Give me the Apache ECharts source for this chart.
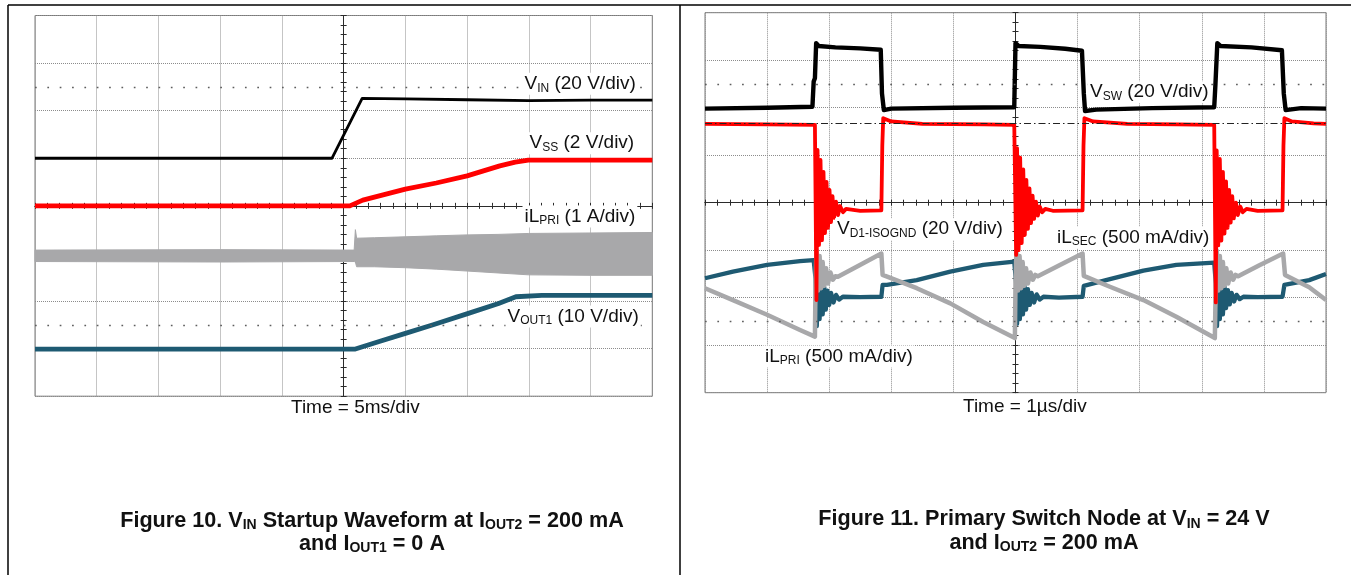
<!DOCTYPE html>
<html><head><meta charset="utf-8">
<script src="https://cdn.jsdelivr.net/npm/echarts@6/dist/echarts.min.js"></script>
<style>html,body{margin:0;padding:0;background:#fff}#c{width:1351px;height:575px}</style>
</head><body><div id="c"></div>
<script>
// ---------- Figure 10 (left): x = divisions from centre (5 ms/div), y = divisions from centre ----------
const vinX   = [-5, -0.19, 0.30, 1.0, 2.0, 3.0, 4.0, 5.0];
const vinY   = [1.0, 1.0, 2.26, 2.25, 2.23, 2.21, 2.22, 2.22];
const vssX   = [-5, -2, 0.10, 0.31, 1.0, 1.5, 2.0, 2.53, 2.78, 2.99, 4.0, 5.0];
const vssY   = [0.0, 0.0, 0.0, 0.12, 0.35, 0.48, 0.63, 0.84, 0.92, 0.96, 0.96, 0.96];
const vout1X = [-5, 0.19, 0.55, 1.0, 1.45, 2.02, 2.51, 2.79, 3.21, 4.0, 5.0];
const vout1Y = [-3.01, -3.01, -2.86, -2.68, -2.50, -2.26, -2.05, -1.91, -1.88, -1.88, -1.88];
// iL_PRI switching envelope (upper / lower edge of the grey band)
const ilBandX  = [-5, -2, 0.17, 0.19, 0.21, 0.5, 1.0, 1.5, 2.0, 2.5, 3.0, 4.0, 5.0];
const ilBandUp = [-0.93, -0.92, -0.93, -0.50, -0.68, -0.67, -0.65, -0.63, -0.61, -0.60, -0.58, -0.57, -0.56];
const ilBandLo = [-1.17, -1.18, -1.17, -1.18, -1.28, -1.28, -1.30, -1.33, -1.37, -1.41, -1.45, -1.46, -1.46];

// ---------- Figure 11 (right): x = divisions from centre (1 us/div), y = divisions from centre ----------
const vswX = [-5, -4.0, -3.27, -3.25, -3.23, -3.21, -3.17, -2.9, -2.5, -2.17, -2.15, -2.12, -2.0, -1.0, -0.02,
  0.0, 0.05, 0.4, 0.8, 1.07, 1.1, 1.12, 1.3, 2.2, 3.2, 3.22, 3.25, 3.3, 3.8, 4.29, 4.32, 4.35, 4.6, 5];
const vswY = [1.98, 2.0, 2.02, 2.55, 2.62, 3.36, 3.30, 3.27, 3.25, 3.22, 2.3, 1.95, 1.98, 2.0, 2.01,
  3.36, 3.30, 3.28, 3.24, 3.2, 2.3, 1.93, 1.96, 1.99, 2.01, 2.5, 3.36, 3.30, 3.27, 3.21, 2.3, 1.95, 1.99, 1.98];

const vd1X = [-5, -4.0, -3.23, -3.205, -3.188, -3.164, -3.14, -3.116, -3.092, -3.068, -3.043, -3.019, -2.995, -2.971,
  -2.947, -2.923, -2.89, -2.858, -2.826, -2.778, -2.729, -2.5, -2.16, -2.145, -2.13, -2.0, -1.5, -0.5, -0.02,
  0.01, 0.025, 0.05, 0.075, 0.10, 0.125, 0.15, 0.175, 0.20, 0.225, 0.25, 0.275, 0.30, 0.33, 0.36, 0.39, 0.43, 0.48,
  0.6, 1.08, 1.095, 1.11, 1.25, 1.8, 2.6, 3.2,
  3.225, 3.24, 3.265, 3.29, 3.315, 3.34, 3.365, 3.39, 3.415, 3.44, 3.465, 3.49, 3.515, 3.55, 3.58, 3.62, 3.66, 3.72,
  3.9, 4.3, 4.315, 4.33, 4.45, 4.8, 5];
const vd1Y = [1.66, 1.65, 1.64, -2.05, 1.11, -0.89, 0.90, -0.79, 0.65, -0.64, 0.44, -0.53, 0.27, -0.41,
  0.14, -0.32, 0.02, -0.26, -0.07, -0.20, -0.13, -0.17, -0.16, 1.2, 1.78, 1.71, 1.66, 1.65, 1.64,
  -1.1, 1.15, -1.0, 0.95, -0.85, 0.70, -0.68, 0.48, -0.55, 0.30, -0.43, 0.15, -0.34, 0.02, -0.27, -0.08, -0.20, -0.13,
  -0.17, -0.16, 1.2, 1.78, 1.71, 1.66, 1.65, 1.64,
  -2.1, 1.1, -0.9, 0.92, -0.8, 0.65, -0.65, 0.45, -0.53, 0.27, -0.42, 0.14, -0.33, 0.0, -0.26, -0.08, -0.2, -0.13,
  -0.17, -0.16, 1.2, 1.78, 1.71, 1.67, 1.66];

const ilsecX = [-5, -4.55, -4.0, -3.47, -3.25, -3.22, -3.2, -3.18, -3.155, -3.13, -3.105, -3.08, -3.055, -3.03, -3.0,
  -2.97, -2.93, -2.89, -2.84, -2.78, -2.5, -2.16, -2.14, -2.07, -1.59, -1.05, -0.52, -0.02,
  0.01, 0.025, 0.045, 0.07, 0.095, 0.12, 0.145, 0.17, 0.2, 0.23, 0.26, 0.3, 0.34, 0.39, 0.45, 0.7, 1.08,
  1.10, 1.52, 2.06, 2.59, 3.2,
  3.225, 3.245, 3.265, 3.29, 3.315, 3.34, 3.365, 3.39, 3.42, 3.45, 3.48, 3.52, 3.56, 3.61, 3.67, 3.9, 4.3,
  4.33, 4.73, 5];
const ilsecY = [-1.59, -1.45, -1.31, -1.23, -1.21, -1.6, -2.6, -1.55, -2.45, -1.7, -2.35, -1.78, -2.25, -1.85, -2.15,
  -1.9, -2.1, -1.94, -2.04, -1.98, -1.99, -1.98, -1.73, -1.73, -1.63, -1.45, -1.31, -1.24,
  -1.7, -2.55, -1.5, -2.45, -1.65, -2.35, -1.75, -2.25, -1.82, -2.15, -1.9, -2.1, -1.93, -2.04, -1.98, -2.0, -1.98,
  -1.75, -1.61, -1.43, -1.31, -1.26,
  -1.7, -2.6, -1.55, -2.45, -1.68, -2.35, -1.76, -2.22, -1.84, -2.14, -1.9, -2.08, -1.94, -2.03, -1.98, -1.99, -1.98,
  -1.73, -1.63, -1.50];

const ilpri2X = [-5, -4.55, -4.0, -3.47, -3.23, -3.22, -3.205, -3.18, -3.155, -3.13, -3.105, -3.08, -3.05, -3.02,
  -2.98, -2.94, -2.9, -2.86, -2.52, -2.16, -2.14, -1.59, -1.05, -0.52, -0.01,
  0.0, 0.015, 0.04, 0.065, 0.09, 0.115, 0.14, 0.17, 0.2, 0.24, 0.28, 0.32, 0.36, 0.7, 1.08,
  1.10, 1.52, 2.06, 2.59, 3.21,
  3.225, 3.24, 3.265, 3.29, 3.315, 3.34, 3.365, 3.395, 3.425, 3.465, 3.505, 3.545, 3.585, 3.92, 4.31,
  4.34, 4.73, 5];
const ilpri2Y = [-1.80, -2.05, -2.36, -2.68, -2.82, -1.7, -1.0, -1.85, -1.12, -1.8, -1.25, -1.75, -1.38, -1.7,
  -1.47, -1.62, -1.55, -1.56, -1.32, -1.07, -1.52, -1.80, -2.12, -2.51, -2.85,
  -1.7, -1.0, -1.85, -1.12, -1.8, -1.25, -1.75, -1.38, -1.7, -1.47, -1.62, -1.52, -1.55, -1.32, -1.07,
  -1.54, -1.77, -2.05, -2.40, -2.85,
  -1.7, -1.0, -1.85, -1.12, -1.8, -1.25, -1.75, -1.38, -1.7, -1.47, -1.62, -1.52, -1.55, -1.32, -1.07,
  -1.52, -1.78, -2.05];

// reference levels
const dotRows = [2.5, -2.5];
const vd1Ground = 1.67;

// ---------------------------------------------------------------------
const FONT = '"Liberation Sans", Arial, Helvetica, sans-serif';
const zip = (xs, ys) => xs.map((x, i) => [x, ys[i]]);
const AX = '#2b2b2b';

function xAx(g, pos, split) {
  return { type: 'value', gridIndex: g, min: -5, max: 5, interval: 1, position: pos,
    axisLine: { show: true, onZero: true, lineStyle: { color: AX, width: 1 } },
    axisTick: { show: true, length: 3, lineStyle: { color: AX } },
    minorTick: { show: true, splitNumber: 5, length: 3, lineStyle: { color: AX } },
    axisLabel: { show: false },
    splitLine: split ? { show: true, lineStyle: { color: '#8c8c8c', width: 1, type: [1, 1] } } : { show: false },
    minorSplitLine: { show: false } };
}
function yAx(g, pos, split) {
  return { type: 'value', gridIndex: g, min: -4, max: 4, interval: 1, position: pos,
    axisLine: { show: true, onZero: true, lineStyle: { color: AX, width: 1 } },
    axisTick: { show: true, length: 3, lineStyle: { color: AX } },
    minorTick: { show: true, splitNumber: 5, length: 3, lineStyle: { color: AX } },
    axisLabel: { show: false },
    splitLine: split ? { show: true, lineStyle: { color: '#8c8c8c', width: 1, type: [1, 1] } } : { show: false },
    minorSplitLine: { show: false } };
}
function line(name, g, xs, ys, color, width, extra) {
  return Object.assign({ name, type: 'line', xAxisIndex: g * 2, yAxisIndex: g * 2, data: zip(xs, ys),
    symbol: 'none', showSymbol: false, animation: false, silent: true,
    lineStyle: { color, width, join: 'round' } }, extra || {});
}
const dotLine = { type: [1.7, 10.65], color: '#5e5e5e', width: 1.4 };
function marks(extra) {
  return { markLine: { silent: true, symbol: ['none', 'none'], animation: false, label: { show: false },
    lineStyle: dotLine, data: dotRows.map(v => ({ yAxis: v })).concat(extra || []) } };
}

function richText(x, baseline, parts, size, sub, opts) {
  opts = opts || {};
  const lh = size + 3;
  const txt = parts.map(p => '{' + p[0] + '|' + p[1] + '}').join('');
  const w = opts.bold ? 'bold' : 'normal';
  return { type: 'text', x: x, y: baseline - (lh / 2 + 0.36 * size), z: 100,
    style: { text: txt, align: opts.align || 'left', verticalAlign: 'top',
      backgroundColor: opts.bg ? '#ffffff' : 'transparent', padding: opts.bg ? [0, 2, 0, 2] : 0,
      rich: {
        m: { fontSize: size, fontFamily: FONT, fontWeight: w, fill: '#111', color: '#111', lineHeight: lh, verticalAlign: 'bottom', height: lh },
        s: { fontSize: sub, fontFamily: FONT, fontWeight: w, fill: '#111', color: '#111', lineHeight: sub + 1, height: sub + 1, verticalAlign: 'bottom' }
      } } };
}
function frame(x1, y1, x2, y2) {
  return { type: 'line', shape: { x1, y1, x2, y2 }, style: { stroke: '#000', lineWidth: 1.5 }, z: 50 };
}

const chart = echarts.init(document.getElementById('c'), null, { renderer: 'canvas' });
chart.setOption({
  backgroundColor: '#ffffff',
  animation: false,
  grid: [
    { left: 35, top: 15.5, width: 617.3, height: 380.7, show: true, borderColor: '#7a7a7a', borderWidth: 1, containLabel: false, outerBoundsMode: 'none' },
    { left: 705, top: 12.7, width: 621, height: 380, show: true, borderColor: '#7a7a7a', borderWidth: 1, containLabel: false, outerBoundsMode: 'none' }
  ],
  xAxis: [xAx(0, 'bottom', true), xAx(0, 'top', false), xAx(1, 'bottom', true), xAx(1, 'top', false)],
  yAxis: [yAx(0, 'left', true), yAx(0, 'right', false), yAx(1, 'left', true), yAx(1, 'right', false)],
  series: [
    line('VIN', 0, vinX, vinY, '#000000', 2.8, marks()),
    line('VSS', 0, vssX, vssY, '#ff0000', 4.8),
    { name: 'iLPRI', type: 'custom', xAxisIndex: 0, yAxisIndex: 0, data: [[0, -1]], silent: true, animation: false,
      renderItem: function (params, api) {
        const pts = ilBandX.map((x, i) => api.coord([x, ilBandUp[i]]));
        for (let i = ilBandX.length - 1; i >= 0; i--) pts.push(api.coord([ilBandX[i], ilBandLo[i]]));
        return { type: 'polygon', shape: { points: pts }, style: { fill: '#a8a8aa', stroke: '#a8a8aa', lineWidth: 1 } };
      } },
    line('VOUT1', 0, vout1X, vout1Y, '#1e5a72', 4.8),

    line('iLSEC', 1, ilsecX, ilsecY, '#1e5a72', 4.3),
    line('iLPRI2', 1, ilpri2X, ilpri2Y, '#a8a8aa', 4.5),
    line('VD1', 1, vd1X, vd1Y, '#ff0000', 3.8),
    line('VSW', 1, vswX, vswY, '#000000', 4.4,
      marks([{ yAxis: vd1Ground, lineStyle: { type: [7, 3, 1.5, 3], color: '#222', width: 1.2 } }]))
  ],
  graphic: [
    frame(8, 5, 1351, 5), frame(8, 5, 8, 575), frame(680, 5, 680, 575),
    richText(522.5, 90.7, [['m', 'V'], ['s', 'IN'], ['m', ' (20 V/div)']], 19, 12, { bg: true }),
    richText(527.5, 150, [['m', 'V'], ['s', 'SS'], ['m', ' (2 V/div)']], 19, 12, { bg: true }),
    richText(522.5, 223.3, [['m', 'iL'], ['s', 'PRI'], ['m', ' (1 A/div)']], 19, 12, { bg: true }),
    richText(505.5, 323.3, [['m', 'V'], ['s', 'OUT1'], ['m', ' (10 V/div)']], 19, 12, { bg: true }),
    richText(291, 415, [['m', 'Time = 5ms/div']], 19, 12),

    richText(1088, 99, [['m', 'V'], ['s', 'SW'], ['m', ' (20 V/div)']], 19, 12, { bg: true }),
    richText(835, 236, [['m', 'V'], ['s', 'D1-ISOGND'], ['m', ' (20 V/div)']], 19, 12, { bg: true }),
    richText(1055, 244.3, [['m', 'iL'], ['s', 'SEC'], ['m', ' (500 mA/div)']], 19, 12, { bg: true }),
    richText(763, 363.3, [['m', 'iL'], ['s', 'PRI'], ['m', ' (500 mA/div)']], 19, 12, { bg: true }),
    richText(963, 414, [['m', 'Time = 1µs/div']], 19, 12),

    richText(372, 528.5, [['m', 'Figure 10. V'], ['s', 'IN'], ['m', ' Startup Waveform at I'], ['s', 'OUT2'], ['m', ' = 200 mA']], 21.6, 14, { bold: true, align: 'center' }),
    richText(372, 551.5, [['m', 'and I'], ['s', 'OUT1'], ['m', ' = 0 A']], 21.6, 14, { bold: true, align: 'center' }),
    richText(1044, 527, [['m', 'Figure 11. Primary Switch Node at V'], ['s', 'IN'], ['m', ' = 24 V']], 21.6, 14, { bold: true, align: 'center' }),
    richText(1044, 550.5, [['m', 'and I'], ['s', 'OUT2'], ['m', ' = 200 mA']], 21.6, 14, { bold: true, align: 'center' })
  ]
});
</script></body></html>
